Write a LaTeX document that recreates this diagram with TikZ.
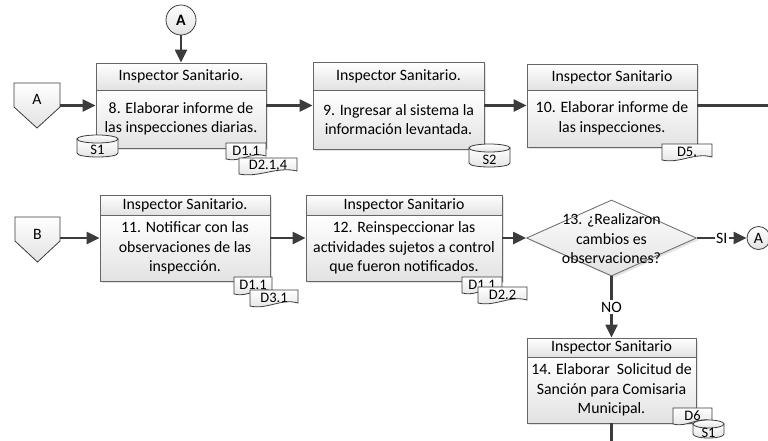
\documentclass[tikz,border=0pt]{standalone}
\usepackage{fontspec}
\setmainfont{Carlito}
\usetikzlibrary{shapes.geometric,arrows.meta,shadows,fit,calc}
\definecolor{edge}{HTML}{666666}
\definecolor{ink}{HTML}{3C3C3C}
\definecolor{shadeb}{HTML}{E2E2E2}
\tikzset{
  every node/.style={font=\fontsize{15.8}{19.5}\selectfont, text=black},
  boxpart/.style={draw=edge, line width=0.8pt, top color=white, bottom color=shadeb,
    inner sep=1pt, align=center,
    drop shadow={shadow xshift=2pt, shadow yshift=-2pt, opacity=0.22}},
  symb/.style={draw=ink, line width=0.8pt, top color=white, bottom color=shadeb},
  smalltext/.style={font=\fontsize{14.5}{16}\selectfont, inner sep=0pt},
  arr/.style={draw=ink, line width=2.2pt, -{Triangle[length=13pt,width=12pt]}},
  plainline/.style={draw=ink, line width=2.2pt},
  lbl/.style={fill=white, inner sep=1.5pt},
  conn/.style={circle, draw=ink, line width=0.8pt, inner sep=0pt, top color=white, bottom color=shadeb},
  decision/.style={diamond, draw=edge, line width=0.8pt, inner sep=0pt, top color=white, bottom color=shadeb,
    drop shadow={shadow xshift=2pt, shadow yshift=-2pt, opacity=0.22}},
}
% id x1 x2 ytop ydiv ybot header body
\newcommand\procbox[8]{%
  \node[boxpart, minimum width={(#3-#2)*1pt}, minimum height={(#5-#4)*1pt}] (h#1) at ({(#2+#3)/2},{(#4+#5)/2}) {#7};
  \node[boxpart, minimum width={(#3-#2)*1pt}, minimum height={(#6-#5)*1pt}] (t#1) at ({(#2+#3)/2},{(#5+#6)/2}) {#8};
  \node[fit=(h#1)(t#1), inner sep=0pt, outer sep=0pt] (b#1) {};
}
% name x1 y1 x2 y2 text
\newcommand\docsym[6]{%
  \draw[symb] (#2,#3) -- (#4,#3) -- (#4,{#5-3}) .. controls ({#4-0.35*(#4-#2)},{#5-8}) and ({#2+0.35*(#4-#2)},{#5+4}) .. (#2,{#5}) -- cycle;
  \node[smalltext] (#1) at ({(#2+#4)/2},{#3+0.47*(#5-#3)}) {#6};
}
\newcommand\cylsym[6]{%
  \draw[symb] (#2,{#3+4}) -- (#2,{#5-4}) .. controls (#2,{#5+1.33}) and (#4,{#5+1.33}) .. (#4,{#5-4}) -- (#4,{#3+4}) -- cycle;
  \draw[symb] ({(#2+#4)/2},{#3+4}) ellipse [x radius={(#4-#2)/2}, y radius=4];
  \node[smalltext] (#1) at ({(#2+#4)/2},{(#3+8+#5)/2}) {#6};
}
\begin{document}
\begin{tikzpicture}[x=1pt,y=-1pt]
\fill[white] (0,0) rectangle (768,440);
\useasboundingbox (0,0) rectangle (768,440);

% top connector
\node[conn, minimum size=30pt, font=\fontsize{15.8}{19.5}\selectfont\bfseries] (cA) at (181,20) {A};

% off-page connectors
\draw[symb] (14,83) -- (60,83) -- (60,107) -- (37,128) -- (14,107) -- cycle;
\node (offA) at (37,99) {A};
\coordinate (offAr) at (60,105.5);
\draw[symb] (15,217) -- (60,217) -- (60,241) -- (37.5,262) -- (15,241) -- cycle;
\node (offB) at (37.5,234) {B};
\coordinate (offBr) at (60,238);

% process boxes
\procbox{8}{96}{266}{63}{90}{148}{Inspector Sanitario.}{8. Elaborar informe de\\las inspecciones diarias.}
\procbox{9}{313}{484}{62}{90}{149}{Inspector Sanitario.}{9. Ingresar al sistema la\\información levantada.}
\procbox{10}{527}{697}{64}{90}{147}{Inspector Sanitario}{10. Elaborar informe de\\las inspecciones.}
\procbox{11}{100}{270}{195}{215}{281}{Inspector Sanitario.}{11. Notificar con las\\observaciones de las\\inspección.}
\procbox{12}{306}{502}{195}{215}{281}{Inspector Sanitario}{12. Reinspeccionar las\\actividades sujetos a control\\que fueron notificados.}
\procbox{14}{527}{696}{338}{357}{423}{Inspector Sanitario}{14. Elaborar\ \ Solicitud de\\Sanción para Comisaria\\Municipal.}

% decision
\node[decision, minimum width=170pt, minimum height=76pt] (d13) at (611.5,238) {};
\node[align=center, inner sep=0pt] (d13t) at (611.5,239) {13. ¿Realizaron\\cambios es\\observaciones?};

% right connector
\node[conn, minimum size=23pt] (cA2) at (758.5,238) {A};

% documents and databases
\cylsym{s8}{77}{135}{118}{157}{S1}
\docsym{d81}{226}{143}{266}{159}{D1.1}
\docsym{d82}{239}{158}{297}{174}{D2.1,4}
\cylsym{s9}{469}{144}{510}{167}{S2}
\docsym{d10}{662}{144}{712}{160}{D5.}
\docsym{d111}{234}{277}{272}{294}{D1.1}
\docsym{d112}{250}{290}{298}{306}{D3.1}
\docsym{d121}{462}{277}{502}{293}{D1.1}
\docsym{d122}{478}{287}{527}{303}{D2.2}
\docsym{d14}{673}{408}{712}{424}{D6}
\cylsym{s14}{693}{420}{724}{438}{S1}

% coordinates for free ends
\coordinate (exitR) at (772,105.5);
\coordinate (exitB) at (611.5,444);

% connectors
\draw[arr] (cA.south) -- (b8.north);
\draw[arr] (offAr) -- (offAr -| b8.west);
\draw[arr] (b8.east) -- (b9.west);
\draw[arr] (b9.east) -- (b10.west);
\draw[plainline] (b10.east) -- (exitR);
\draw[arr] (offBr) -- (b11.west);
\draw[arr] (b11.east) -- (b12.west);
\draw[arr] (b12.east) -- (d13.west);
\draw[arr] (d13.east) -- node[lbl] (lsi) {SI} (cA2.west);
\draw[arr] (d13.south) -- node[lbl] (lno) {NO} (b14.north);
\draw[plainline] (b14.south) -- (exitB);
\end{tikzpicture}
\end{document}
